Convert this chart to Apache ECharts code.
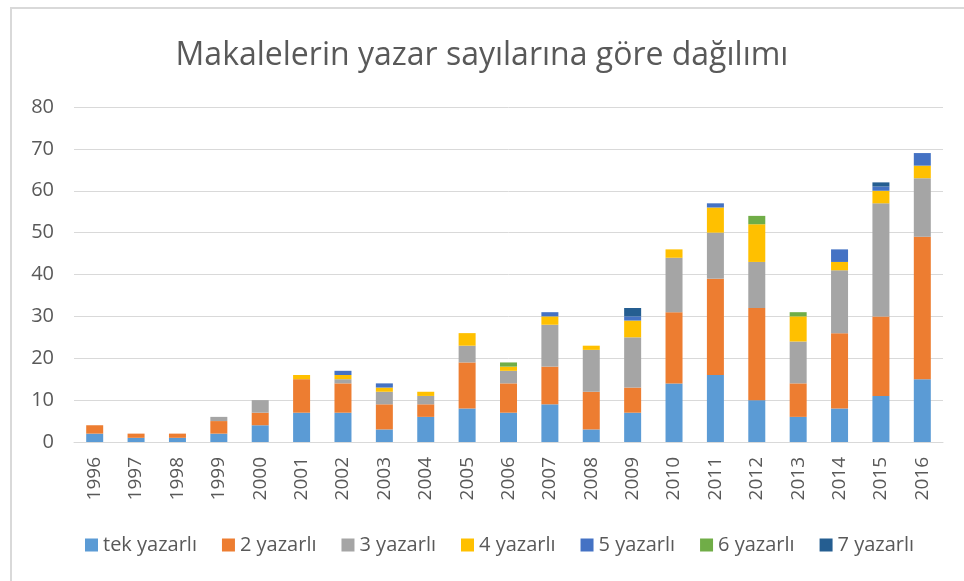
<!DOCTYPE html>
<html>
<head>
<meta charset="utf-8">
<script src="https://cdn.jsdelivr.net/npm/echarts@6/dist/echarts.min.js"></script>
<style>
  html, body { margin: 0; padding: 0; background: #fff; }
  #chart { width: 964px; height: 581px; }
</style>
</head>
<body>
<div id="chart"></div>
<script>
// yillar
var years = ['1996', '1997', '1998', '1999', '2000', '2001', '2002', '2003', '2004', '2005', '2006',
  '2007', '2008', '2009', '2010', '2011', '2012', '2013', '2014', '2015', '2016'];

var seriesNames = ['tek yazarlı', '2 yazarlı', '3 yazarlı', '4 yazarlı', '5 yazarlı', '6 yazarlı', '7 yazarlı'];

var tekYazarli = [2, 1, 1, 2, 4, 7, 7, 3, 6, 8, 7, 9, 3, 7, 14, 16, 10, 6, 8, 11, 15];
var ikiYazarli = [2, 1, 1, 3, 3, 8, 7, 6, 3, 11, 7, 9, 9, 6, 17, 23, 22, 8, 18, 19, 34];
var ucYazarli = [0, 0, 0, 1, 3, 0, 1, 3, 2, 4, 3, 10, 10, 12, 13, 11, 11, 10, 15, 27, 14];
var dortYazarli = [0, 0, 0, 0, 0, 1, 1, 1, 1, 3, 1, 2, 1, 4, 2, 6, 9, 6, 2, 3, 3];
var besYazarli = [0, 0, 0, 0, 0, 0, 1, 1, 0, 0, 0, 1, 0, 1, 0, 1, 0, 0, 3, 1, 3];
var altiYazarli = [0, 0, 0, 0, 0, 0, 0, 0, 0, 0, 1, 0, 0, 0, 0, 0, 2, 1, 0, 0, 0];
var yediYazarli = [0, 0, 0, 0, 0, 0, 0, 0, 0, 0, 0, 0, 0, 2, 0, 0, 0, 0, 0, 1, 0];

var colors = ['#5B9BD5', '#ED7D31', '#A5A5A5', '#FFC000', '#4472C4', '#70AD47', '#255E91'];

var allData = [tekYazarli, ikiYazarli, ucYazarli, dortYazarli, besYazarli, altiYazarli, yediYazarli];
var textColor = '#595959';
var font = 'Open Sans';

var chart = echarts.init(document.getElementById('chart'));

chart.setOption({
  animation: false,
  color: colors,
  title: {
    text: 'Makalelerin yazar sayılarına göre dağılımı',
    left: 'center',
    top: 35,
    textStyle: { color: textColor, fontFamily: font, fontSize: 32, fontWeight: 'normal' }
  },
  legend: {
    bottom: 21,
    left: 80,
    itemWidth: 13,
    itemHeight: 13,
    itemGap: 25,
    icon: 'rect',
    textStyle: { color: textColor, fontFamily: font, fontSize: 20 },
    data: seriesNames
  },
  grid: { left: 74, right: 21, top: 107, bottom: 139 },
  xAxis: {
    type: 'category',
    data: years,
    axisLine: { lineStyle: { color: '#d9d9d9', width: 1 } },
    axisTick: { show: false },
    axisLabel: { rotate: 90, margin: 15, color: textColor, fontFamily: font, fontSize: 19, interval: 0 }
  },
  yAxis: {
    type: 'value',
    min: 0,
    max: 80,
    interval: 10,
    axisLine: { show: false },
    axisTick: { show: false },
    splitLine: { lineStyle: { color: '#d9d9d9', width: 1 } },
    axisLabel: { margin: 20, color: textColor, fontFamily: font, fontSize: 20 }
  },
  series: seriesNames.map(function (name, i) {
    return {
      name: name,
      type: 'bar',
      stack: 'toplam',
      barWidth: 17,
      data: allData[i]
    };
  }),
  graphic: [{
    type: 'polyline',
    silent: true,
    shape: { points: [[11, 600], [11, 8], [970, 8]] },
    style: { stroke: '#d9d9d9', lineWidth: 2, fill: null }
  }]
});
</script>
</body>
</html>
